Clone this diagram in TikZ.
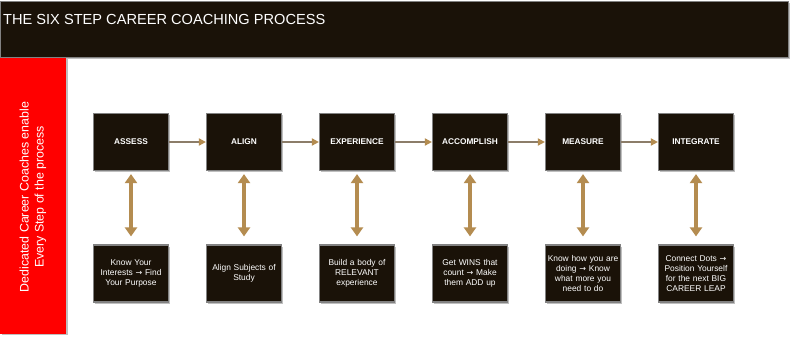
\documentclass[tikz,border=0pt]{standalone}
\usepackage{fontspec}
\setmainfont{Liberation Sans}
\newfontfamily\arrowfont{DejaVu Sans}
\usetikzlibrary{arrows.meta,shadows}
\definecolor{hdr}{RGB}{26,18,8}
\definecolor{tan}{RGB}{180,140,80}
\definecolor{lnk}{RGB}{140,125,105}
\definecolor{rim}{RGB}{130,130,130}
\newcommand{\ar}{{\arrowfont\fontsize{8}{10}\selectfont →}}
\tikzset{
  x=1pt,y=-1pt,
  stepbox/.style={draw=rim,line width=1.2pt,fill=hdr,minimum width=75pt,minimum height=57pt,
    inner sep=1pt,text=white,align=center,drop shadow={shadow xshift=1.5pt,shadow yshift=-1.5pt,fill=black!50,opacity=0.5}},
  topbox/.style={stepbox,font=\bfseries\fontsize{8.3}{10}\selectfont},
  botbox/.style={stepbox,font=\fontsize{8.4}{10}\selectfont,text width=72pt},
  link/.style={draw=lnk,line width=2pt,-{Triangle[length=7pt,width=7pt,fill=tan,color=tan]}},
  dbl/.style={draw=tan,line width=3.5pt,{Triangle[length=9pt,width=12pt]}-{Triangle[length=9pt,width=12pt]}},
}
\begin{document}
\begin{tikzpicture}
\useasboundingbox[fill=white] (0,0) rectangle (793,341);
\node[draw=rim,line width=1pt,fill=hdr,minimum width=788pt,minimum height=56pt,anchor=north west,
  drop shadow={shadow xshift=1.5pt,shadow yshift=-1.5pt,fill=black!50,opacity=0.5}] (header) at (0,1) {};
\node[anchor=west,text=white,font=\fontsize{14.6}{18}\selectfont,inner sep=0pt] (title) at (3,19.5) {THE SIX STEP CAREER COACHING PROCESS};
\node[fill=red,minimum width=66pt,minimum height=276pt,anchor=north west,inner sep=0pt,
  drop shadow={shadow xshift=1.5pt,shadow yshift=-1.5pt,fill=black!50,opacity=0.5}] (side) at (0,57.5) {};
\node[rotate=90,text=white,align=center,font=\fontsize{12.4}{15}\selectfont] (sidetext) at (33,197) {Dedicated Career Coaches enable\\Every Step of the process};
\foreach \i/\t/\b [count=\n from 0] in {
  a/ASSESS/{Know Your\\Interests \ar{} Find\\Your Purpose},
  b/ALIGN/{Align Subjects of\\Study},
  c/EXPERIENCE/{Build a body of\\RELEVANT\\experience},
  d/ACCOMPLISH/{Get WINS that\\count \ar{} Make\\them ADD up},
  e/MEASURE/{Know how you are\\doing \ar{} Know\\what more you\\need to do},
  f/INTEGRATE/{Connect Dots \ar\\Position Yourself\\for the next BIG\\CAREER LEAP}} {
  \node[topbox] (t\i) at (131+113*\n,142) {\t};
  \node[botbox] (b\i) at (131+113*\n,273.5) {\b};
  \draw[dbl] ([yshift=-3pt]t\i.south) -- ([yshift=8pt]b\i.north);
}
\foreach \p/\q in {a/b,b/c,c/d,d/e,e/f} {
  \draw[link] (t\p.east) -- (t\q.west);
}
\end{tikzpicture}
\end{document}
